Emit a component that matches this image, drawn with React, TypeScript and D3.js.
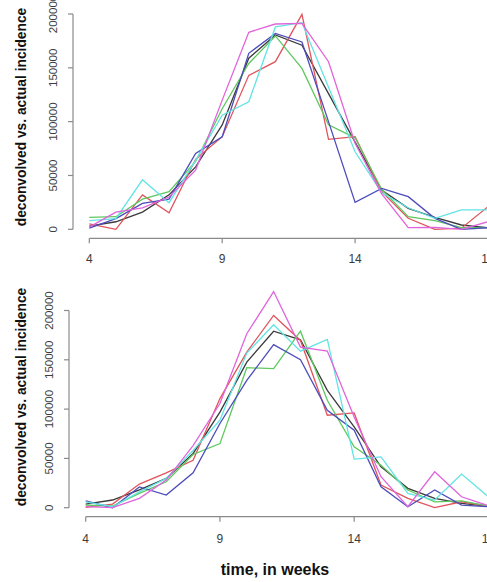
import React from 'react';
import * as d3 from 'd3';

// weeks on the x axis
const weeks = [4, 5, 6, 7, 8, 9, 10, 11, 12, 13, 14, 15, 16, 17, 18, 19];
const xTicks = [4, 9, 14, 19];
const yTicks = [0, 50000, 100000, 150000, 200000];

// upper panel
const topBlack = [3000, 7000, 16000, 32000, 58000, 97000, 159000, 180500, 171000, 126000, 81000, 36500, 19500, 11000, 4000, 1500];
const topRed = [5000, 0, 32000, 15400, 65000, 86000, 143000, 155700, 199700, 83600, 86000, 35000, 10200, 0, 1000, 21000];
const topGreen = [11000, 11700, 28000, 35000, 63000, 112000, 154000, 179600, 149500, 97000, 85000, 37000, 11700, 8000, 1500, 1500];
const topBlue = [1000, 10000, 24000, 28000, 70500, 86000, 163500, 182000, 174000, 100000, 25000, 38000, 30300, 10200, 0, 1500];
const topCyan = [8000, 10000, 46000, 24700, 64000, 106000, 118500, 188000, 192000, 132000, 72000, 34000, 20000, 10200, 18000, 18000];
const topMagenta = [2000, 16000, 20000, 30000, 55000, 120000, 183000, 190700, 191300, 155700, 80000, 33000, 1500, 1800, 0, 7000];

// lower panel
const botBlack = [3700, 7800, 18000, 29700, 55000, 97000, 147700, 179000, 170300, 119000, 82000, 41500, 19600, 9500, 4400, 1500];
const botRed = [400, 3700, 24000, 35400, 48000, 110700, 157800, 195000, 169600, 93800, 96100, 23000, 9500, 0, 6000, 1500];
const botGreen = [2700, 1700, 14500, 26300, 54000, 65000, 142000, 141000, 179000, 109000, 61700, 43000, 17900, 6000, 7000, 1500];
const botBlue = [7000, 0, 21000, 12800, 35400, 85400, 129200, 165300, 150100, 98800, 78600, 21200, 1000, 17900, 2700, 1000];
const botCyan = [6000, 1000, 16000, 29700, 58000, 88700, 156800, 185500, 158800, 170700, 49300, 51600, 14500, 7800, 34100, 11100];
const botMagenta = [1000, 0, 9500, 28000, 63000, 105600, 176400, 219200, 162900, 158800, 92000, 31400, 1000, 36400, 11100, 2000];

const colors = ['#3a3a3a', '#e0545c', '#5ec85e', '#4c4cbc', '#62e4e4', '#e064dc'];

const panels = [
  {
    series: [topBlack, topRed, topGreen, topBlue, topCyan, topMagenta],
    x: [89.3, 488], y: [229.3, 14], axisX: 73, axisY: 238.3,
    yLabelX: 53, yTitle: [21, 117], xLabelY: 258.5,
  },
  {
    series: [botBlack, botRed, botGreen, botBlue, botCyan, botMagenta],
    x: [85.7, 488.4], y: [507.7, 310.5], axisX: 69, axisY: 516.7,
    yLabelX: 48.5, yTitle: [21.5, 397], xLabelY: 538.5,
  },
];

const axisColor = '#8a8a8a';
const textColor = '#3c3c3c';
const font = '"Liberation Sans", Arial, Helvetica, sans-serif';

const Panel: React.FC<{ p: typeof panels[number] }> = ({ p }) => {
  const x = d3.scaleLinear().domain([4, 19]).range(p.x);
  const y = d3.scaleLinear().domain([0, 200000]).range(p.y);
  const line = d3.line<number>().x((_, i) => x(weeks[i])).y(d => y(d));

  return (
    <g>
      {p.series.map((s, i) => (
        <path key={i} d={line(s) ?? ''} fill="none" stroke={colors[i]} strokeWidth={1.3} strokeLinejoin="miter" />
      ))}

      {/* y axis */}
      <line x1={p.axisX} x2={p.axisX} y1={y(0)} y2={y(200000)} stroke={axisColor} strokeWidth={1.2} />
      {yTicks.map(t => (
        <g key={t}>
          <line x1={p.axisX - 5} x2={p.axisX} y1={y(t)} y2={y(t)} stroke={axisColor} strokeWidth={1.2} />
          <text
            transform={`translate(${p.yLabelX},${y(t)}) rotate(-90)`}
            textAnchor="middle" dominantBaseline="central"
            fontSize={11.5} fill={textColor} fontFamily={font}
          >
            {t}
          </text>
        </g>
      ))}
      <text
        transform={`translate(${p.yTitle[0]},${p.yTitle[1]}) rotate(-90)`}
        textAnchor="middle" dominantBaseline="central"
        fontSize={13.8} fontWeight="bold" fill="#111" fontFamily={font}
      >
        deconvolved vs. actual incidence
      </text>

      {/* x axis */}
      <line x1={x(4)} x2={x(19)} y1={p.axisY} y2={p.axisY} stroke={axisColor} strokeWidth={1.2} />
      {xTicks.map(t => (
        <g key={t}>
          <line x1={x(t)} x2={x(t)} y1={p.axisY} y2={p.axisY + 5} stroke={axisColor} strokeWidth={1.2} />
          <text x={x(t)} y={p.xLabelY} textAnchor="middle" dominantBaseline="central"
            fontSize={12} fill={textColor} fontFamily={font}>
            {t}
          </text>
        </g>
      ))}
    </g>
  );
};

export default function App() {
  return (
    <svg width={487} height={582} style={{ position: 'absolute', left: 0, top: 0, background: '#fff' }}>
      <rect width={487} height={582} fill="#fff" />
      {panels.map((p, i) => <Panel key={i} p={p} />)}
      <text x={275} y={569} textAnchor="middle" dominantBaseline="central"
        fontSize={16} fontWeight="bold" fill="#111" fontFamily={font}>
        time, in weeks
      </text>
    </svg>
  );
}
